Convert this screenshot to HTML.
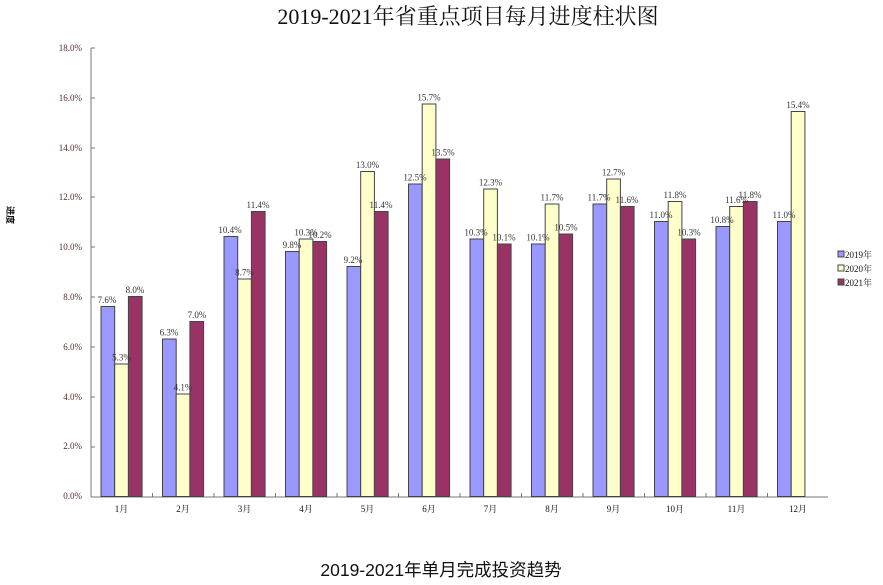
<!DOCTYPE html>
<html><head><meta charset="utf-8"><style>
html,body{margin:0;padding:0;background:#fff;}
svg{display:block;}
.t{font-family:"Liberation Serif","Noto Serif CJK SC",serif;font-size:9px;fill:#333;}
</style></head><body>
<svg width="883" height="585" viewBox="0 0 883 585" xmlns="http://www.w3.org/2000/svg">
<text x="468" y="24" text-anchor="middle" font-family="Liberation Serif,Noto Serif CJK SC,serif" font-size="22" fill="#111">2019-2021年省重点项目每月进度柱状图</text>
<text x="441" y="576" text-anchor="middle" font-family="Liberation Sans,Noto Sans CJK SC,sans-serif" font-size="17.5" fill="#111">2019-2021年单月完成投资趋势</text>
<text transform="translate(7,215) rotate(90)" text-anchor="middle" font-family="Liberation Sans,Noto Sans CJK SC,sans-serif" font-size="9" font-weight="bold" fill="#111">进度</text>
<g class="t" text-anchor="end" style="fill:#5a2a2a">
<text x="82" y="51">18.0%</text><text x="82" y="101">16.0%</text><text x="82" y="151">14.0%</text><text x="82" y="200">12.0%</text><text x="82" y="250">10.0%</text><text x="82" y="300">8.0%</text><text x="82" y="350">6.0%</text><text x="82" y="400">4.0%</text><text x="82" y="449">2.0%</text><text x="82" y="499">0.0%</text>
</g>
<g stroke="#777" stroke-width="1">
<line x1="91" y1="48" x2="91" y2="497"/>
<line x1="91" y1="497" x2="828" y2="497"/>
<line x1="91" y1="48" x2="95" y2="48"/><line x1="91" y1="98" x2="95" y2="98"/><line x1="91" y1="148" x2="95" y2="148"/><line x1="91" y1="197" x2="95" y2="197"/><line x1="91" y1="247" x2="95" y2="247"/><line x1="91" y1="297" x2="95" y2="297"/><line x1="91" y1="347" x2="95" y2="347"/><line x1="91" y1="397" x2="95" y2="397"/><line x1="91" y1="447" x2="95" y2="447"/>
<line x1="152.5" y1="493" x2="152.5" y2="497"/><line x1="214" y1="493" x2="214" y2="497"/><line x1="275.5" y1="493" x2="275.5" y2="497"/><line x1="337" y1="493" x2="337" y2="497"/><line x1="398.5" y1="493" x2="398.5" y2="497"/><line x1="460" y1="493" x2="460" y2="497"/><line x1="521.5" y1="493" x2="521.5" y2="497"/><line x1="583" y1="493" x2="583" y2="497"/><line x1="644.5" y1="493" x2="644.5" y2="497"/><line x1="706" y1="493" x2="706" y2="497"/><line x1="767.5" y1="493" x2="767.5" y2="497"/>
</g>
<g stroke="#444" stroke-width="1">
<g fill="#9999ff">
<rect x="101" y="306.5" width="13.7" height="190"/>
<rect x="162.5" y="339" width="13.7" height="157.5"/>
<rect x="224" y="236.5" width="13.7" height="260"/>
<rect x="285.5" y="251.5" width="13.7" height="245"/>
<rect x="347" y="266.5" width="13.7" height="230"/>
<rect x="408.5" y="184" width="13.7" height="312.5"/>
<rect x="470" y="239" width="13.7" height="257.5"/>
<rect x="531.5" y="244" width="13.7" height="252.5"/>
<rect x="593" y="204" width="13.7" height="292.5"/>
<rect x="654.5" y="221.5" width="13.7" height="275"/>
<rect x="716" y="226.5" width="13.7" height="270"/>
<rect x="777.5" y="221.5" width="13.7" height="275"/>
</g>
<g fill="#ffffcc">
<rect x="114.7" y="364" width="13.7" height="132.5"/>
<rect x="176.2" y="394" width="13.7" height="102.5"/>
<rect x="237.7" y="279" width="13.7" height="217.5"/>
<rect x="299.2" y="239" width="13.7" height="257.5"/>
<rect x="360.7" y="171.5" width="13.7" height="325"/>
<rect x="422.2" y="104" width="13.7" height="392.5"/>
<rect x="483.7" y="189" width="13.7" height="307.5"/>
<rect x="545.2" y="204" width="13.7" height="292.5"/>
<rect x="606.7" y="179" width="13.7" height="317.5"/>
<rect x="668.2" y="201.5" width="13.7" height="295"/>
<rect x="729.7" y="206.5" width="13.7" height="290"/>
<rect x="791.2" y="111.5" width="13.7" height="385"/>
</g>
<g fill="#993366">
<rect x="128.4" y="296.5" width="13.7" height="200"/>
<rect x="189.9" y="321.5" width="13.7" height="175"/>
<rect x="251.4" y="211.5" width="13.7" height="285"/>
<rect x="312.9" y="241.5" width="13.7" height="255"/>
<rect x="374.4" y="211.5" width="13.7" height="285"/>
<rect x="435.9" y="159" width="13.7" height="337.5"/>
<rect x="497.4" y="244" width="13.7" height="252.5"/>
<rect x="558.9" y="234" width="13.7" height="262.5"/>
<rect x="620.4" y="206.5" width="13.7" height="290"/>
<rect x="681.9" y="239" width="13.7" height="257.5"/>
<rect x="743.4" y="201.5" width="13.7" height="295"/>
</g>
</g>
<g class="t" text-anchor="middle">
<text x="107" y="303">7.6%</text><text x="169" y="335.5">6.3%</text><text x="230" y="233">10.4%</text><text x="292" y="248">9.8%</text><text x="353" y="263">9.2%</text><text x="415" y="180.5">12.5%</text><text x="476" y="235.5">10.3%</text><text x="538" y="240.5">10.1%</text><text x="599" y="200.5">11.7%</text><text x="661" y="218">11.0%</text><text x="722" y="223">10.8%</text><text x="784" y="218">11.0%</text>
<text x="121.5" y="360.5">5.3%</text><text x="183" y="390.5">4.1%</text><text x="244.5" y="275.5">8.7%</text><text x="306" y="235.5">10.3%</text><text x="367.5" y="168">13.0%</text><text x="429" y="100.5">15.7%</text><text x="490.5" y="185.5">12.3%</text><text x="552" y="200.5">11.7%</text><text x="613.5" y="175.5">12.7%</text><text x="675" y="198">11.8%</text><text x="736.5" y="203">11.6%</text><text x="798" y="108">15.4%</text>
<text x="135" y="293">8.0%</text><text x="197" y="318">7.0%</text><text x="258" y="208">11.4%</text><text x="320" y="238">10.2%</text><text x="381" y="208">11.4%</text><text x="443" y="155.5">13.5%</text><text x="504" y="240.5">10.1%</text><text x="566" y="230.5">10.5%</text><text x="627" y="203">11.6%</text><text x="689" y="235.5">10.3%</text><text x="750" y="198">11.8%</text>
</g>
<g class="t" text-anchor="middle" style="fill:#111">
<text x="121.5" y="512">1月</text><text x="183" y="512">2月</text><text x="244.5" y="512">3月</text><text x="306" y="512">4月</text><text x="367.5" y="512">5月</text><text x="429" y="512">6月</text><text x="490.5" y="512">7月</text><text x="552" y="512">8月</text><text x="613.5" y="512">9月</text><text x="675" y="512">10月</text><text x="736.5" y="512">11月</text><text x="798" y="512">12月</text>
</g>
<g stroke="#444" stroke-width="1">
<rect x="838" y="251" width="6" height="6" fill="#9999ff"/>
<rect x="838" y="265" width="6" height="6" fill="#ffffcc"/>
<rect x="838" y="279" width="6" height="6" fill="#993366"/>
</g>
<g class="t" style="fill:#111">
<text x="845" y="258">2019年</text><text x="845" y="272">2020年</text><text x="845" y="286">2021年</text>
</g>
</svg>
</body></html>
